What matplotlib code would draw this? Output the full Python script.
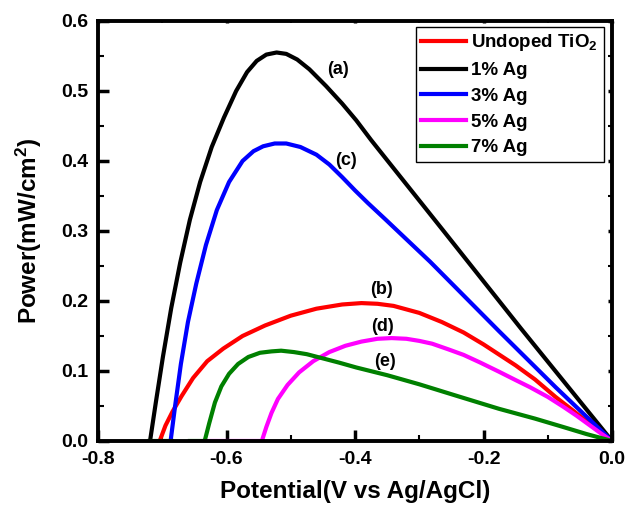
import numpy as np
import matplotlib
matplotlib.use("Agg")
import matplotlib.pyplot as plt
from matplotlib.ticker import MultipleLocator, FormatStrFormatter

plt.rcParams['font.family'] = 'Liberation Sans'
plt.rcParams['font.weight'] = 'bold'
plt.rcParams['mathtext.fontset'] = 'custom'
plt.rcParams['mathtext.rm'] = 'Liberation Sans:bold'
plt.rcParams['mathtext.bf'] = 'Liberation Sans:bold'
plt.rcParams['mathtext.default'] = 'bf'

# power curves, potential in V vs Ag/AgCl, power in mW/cm2
undoped_v = [-0.704, -0.695, -0.684, -0.670, -0.652, -0.630, -0.605, -0.575, -0.540,
             -0.500, -0.460, -0.420, -0.390, -0.365, -0.340, -0.300, -0.265, -0.231,
             -0.200, -0.175, -0.150, -0.120, -0.088, -0.060, -0.030, 0.0]
undoped_p = [0.0, 0.022, 0.042, 0.064, 0.090, 0.114, 0.132, 0.150, 0.165,
             0.179, 0.189, 0.195, 0.197, 0.196, 0.193, 0.183, 0.170, 0.155,
             0.138, 0.123, 0.108, 0.088, 0.063, 0.043, 0.021, 0.0]

ag1_v = [-0.719, -0.710, -0.699, -0.686, -0.672, -0.657, -0.641, -0.623, -0.604,
         -0.585, -0.568, -0.553, -0.538, -0.522, -0.507, -0.490, -0.471, -0.445,
         -0.420, -0.398, -0.375, -0.349, -0.263, -0.142, 0.0]
ag1_p = [0.0, 0.055, 0.120, 0.190, 0.255, 0.316, 0.370, 0.420, 0.462,
         0.500, 0.527, 0.543, 0.552, 0.555, 0.553, 0.545, 0.531, 0.507,
         0.482, 0.458, 0.430, 0.400, 0.301, 0.161, 0.0]

ag3_v = [-0.687, -0.680, -0.671, -0.660, -0.647, -0.632, -0.615, -0.596, -0.575,
         -0.558, -0.543, -0.525, -0.507, -0.485, -0.460, -0.440, -0.420, -0.400,
         -0.380, -0.352, -0.283, -0.176, -0.088, 0.0]
ag3_p = [0.0, 0.050, 0.110, 0.170, 0.225, 0.280, 0.330, 0.370, 0.400,
         0.414, 0.421, 0.425, 0.425, 0.420, 0.409, 0.395, 0.377, 0.358,
         0.340, 0.316, 0.256, 0.157, 0.077, 0.0]

ag5_v = [-0.634, -0.545, -0.538, -0.530, -0.520, -0.505, -0.487, -0.465, -0.440,
         -0.415, -0.390, -0.365, -0.343, -0.320, -0.300, -0.280, -0.255, -0.231,
         -0.205, -0.176, -0.150, -0.128, -0.100, -0.076, -0.055, -0.034, -0.016, 0.0]
ag5_p = [0.0, 0.0, 0.020, 0.040, 0.060, 0.080, 0.098, 0.114, 0.127,
         0.136, 0.142, 0.146, 0.147, 0.146, 0.143, 0.139, 0.131, 0.123,
         0.112, 0.099, 0.087, 0.077, 0.063, 0.049, 0.036, 0.022, 0.010, 0.0]

ag7_v = [-0.720, -0.685, np.nan, -0.657, -0.634, -0.627, -0.618, -0.608, -0.596,
         -0.582, -0.566, -0.548, -0.530, -0.515, -0.495, -0.475, -0.450, -0.425,
         -0.398, -0.350, -0.300, -0.240, -0.176, -0.120, -0.076, -0.040, 0.0]
ag7_p = [0.0, 0.0, np.nan, 0.0, 0.0, 0.025, 0.055, 0.078, 0.096,
         0.110, 0.120, 0.126, 0.128, 0.129, 0.127, 0.124, 0.118, 0.112,
         0.105, 0.094, 0.081, 0.064, 0.046, 0.032, 0.020, 0.010, 0.0]

series = [
    (undoped_v, undoped_p, 'Undoped TiO$_2$', '#FF0000'),
    (ag1_v, ag1_p, '1% Ag', '#000000'),
    (ag3_v, ag3_p, '3% Ag', '#0000FF'),
    (ag5_v, ag5_p, '5% Ag', '#FF00FF'),
    (ag7_v, ag7_p, '7% Ag', '#008000'),
]

tags = ['(a)', '(c)', '(b)', '(d)', '(e)']
tag_v = [-0.427, -0.414, -0.359, -0.357, -0.354]
tag_p = [0.530, 0.401, 0.216, 0.163, 0.113]

fig = plt.figure(figsize=(6.29, 5.07), dpi=100)
ax = fig.add_axes([0.1558, 0.1302, 0.8172, 0.8284])

for v, p, lab, col in series:
    ax.plot(v, p, color=col, lw=3, label=lab, solid_joinstyle='round')

for t, v, p in zip(tags, tag_v, tag_p):
    ax.text(v, p, t, fontsize=13, fontweight='bold', ha='center', va='center')

ax.set_xlim(-0.8, 0.0)
ax.set_ylim(0.0, 0.6)
ax.xaxis.set_major_locator(MultipleLocator(0.2))
ax.xaxis.set_minor_locator(MultipleLocator(0.1))
ax.yaxis.set_major_locator(MultipleLocator(0.1))
ax.yaxis.set_minor_locator(MultipleLocator(0.05))
ax.xaxis.set_major_formatter(FormatStrFormatter('%.1f'))
ax.yaxis.set_major_formatter(FormatStrFormatter('%.1f'))

ax.tick_params(which='major', direction='in', length=8, width=2.5,
               labelsize=14, pad=7)
ax.tick_params(which='minor', direction='in', length=4, width=1.5)
# small ticks on the right and top frame
ax.yaxis.set_ticks_position('both')
ax.xaxis.set_ticks_position('both')
ax.tick_params(axis='y', which='both', right=True, labelright=False)
for t in ax.yaxis.get_major_ticks() + ax.yaxis.get_minor_ticks():
    t.tick2line.set_markersize(3)
for t in ax.xaxis.get_major_ticks() + ax.xaxis.get_minor_ticks():
    t.tick2line.set_markersize(1.5)
for s in ax.spines.values():
    s.set_linewidth(2.8)

ax.set_xlabel('Potential(V vs Ag/AgCl)', fontsize=17.5, fontweight='bold', labelpad=9)
ax.set_ylabel('Power(mW/cm$^2$)', fontsize=17.5, fontweight='bold', labelpad=12)

leg = ax.legend(loc='upper right', bbox_to_anchor=(0.984, 0.986), borderaxespad=0,
                fontsize=13.5, handlelength=2.4, handletextpad=0.27, labelspacing=0.46,
                frameon=True, fancybox=False, framealpha=1, borderpad=0.3)
leg.get_frame().set_edgecolor('black')
leg.get_frame().set_linewidth(1.0)
for t in leg.get_texts():
    t.set_fontweight('bold')

fig.savefig('out.png', dpi=100)
